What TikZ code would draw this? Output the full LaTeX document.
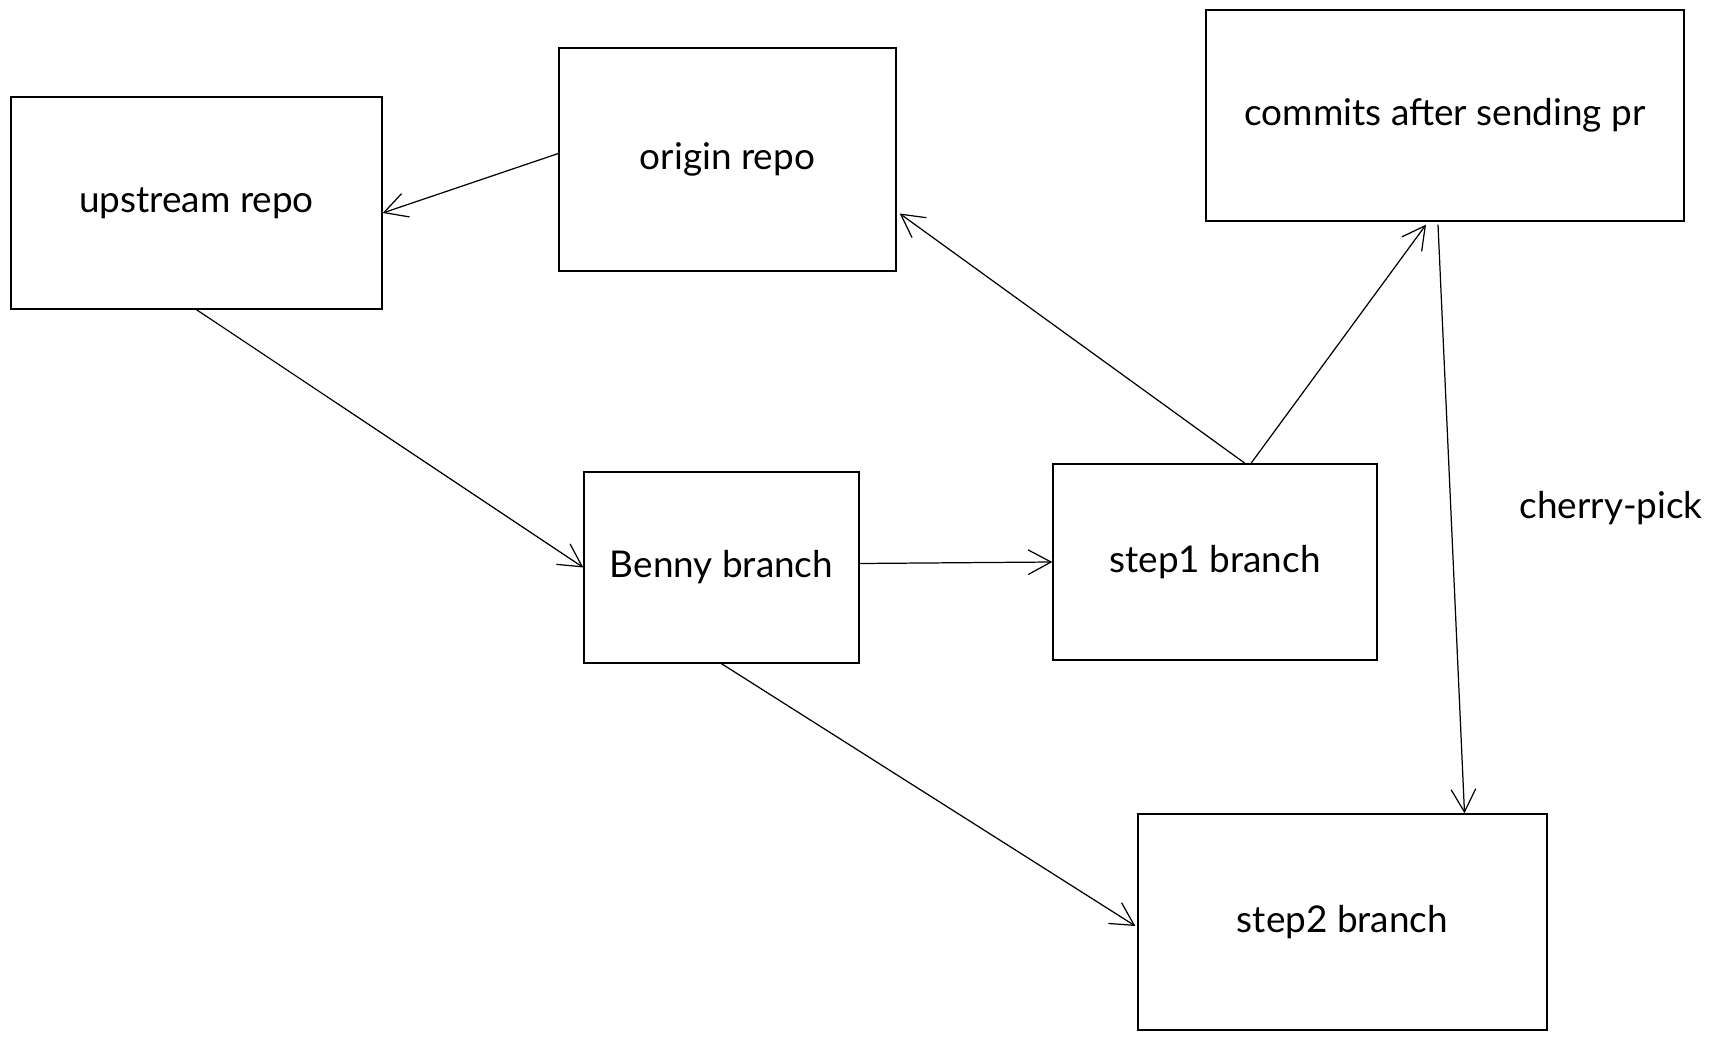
\documentclass[tikz,border=0pt]{standalone}
\usepackage{fontspec}
\setmainfont{Lato}
\usetikzlibrary{positioning, arrows.meta, calc}

\begin{document}
\begin{tikzpicture}[x=0.02cm, y=-0.02cm,
    every node/.style={font=\fontsize{21}{25}\selectfont},
    box/.style={draw, rectangle, line width=0.8pt, inner sep=0pt},
    link/.style={-{Straight Barb[length=13pt, width=14pt]}, line width=0.7pt}]
      \useasboundingbox (0,0) rectangle (1713,1040);

      % Repos
      \node[box, minimum width=7.42cm, minimum height=4.24cm] (upstream) at (196.5, 203) {upstream repo};
      \node[box, minimum width=6.74cm, minimum height=4.46cm] (origin) at (727.5, 159.5) {origin repo};
      \node[box, minimum width=9.56cm, minimum height=4.22cm] (commits) at (1445, 115.5) {commits after sending pr};

      % Branches
      \node[box, minimum width=5.5cm, minimum height=3.82cm] (benny) at (721.5, 567.5) {Benny branch};
      \node[box, minimum width=6.48cm, minimum height=3.92cm] (step1) at (1215, 562) {step1 branch};
      \node[box, minimum width=8.18cm, minimum height=4.32cm] (step2) at (1342.5, 922) {step2 branch};

      % Arrows
      \draw[link] ($(origin.west)+(0,-6)$) -- ($(upstream.east)+(0,10)$);
      \draw[link] (upstream.south) -- (benny.west);
      \draw[link] ($(benny.east)+(0,-4)$) -- (step1.west);
      \draw[link] ($(step1.north)+(30,0)$) -- ($(origin.east)+(3,54)$);
      \draw[link] ($(step1.north)+(36,0)$) -- ($(commits.south)+(-19,3)$);
      \draw[link] ($(commits.south)+(-7,3)$) -- ($(step2.north)+(122,0)$);
      \draw[link] (benny.south) -- ($(step2.west)+(-2,4)$);

      % Labels
      \node (cherry) at (1611, 508) {cherry-pick};
    \end{tikzpicture}
\end{document}
